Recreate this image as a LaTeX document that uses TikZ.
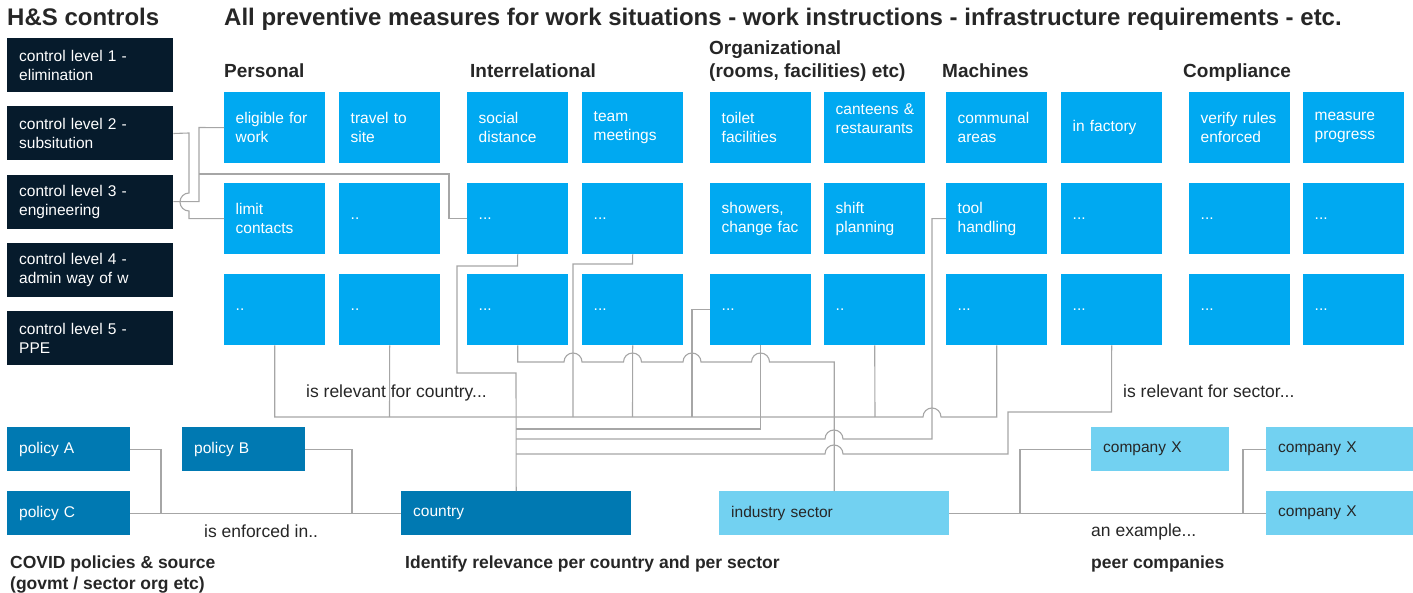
\documentclass[tikz,border=0pt]{standalone}
\usepackage{fontspec}
\setmainfont{Liberation Sans}

\definecolor{navy}{HTML}{061B2C}
\definecolor{skyblue}{HTML}{00A9F1}
\definecolor{polblue}{HTML}{0079B2}
\definecolor{lightsky}{HTML}{72D1F1}
\definecolor{linkgray}{HTML}{A6A6A6}
\definecolor{ink}{HTML}{262626}

\tikzset{
    box/.style={anchor=north west, inner xsep=12pt, inner ysep=0pt, align=left,
                font=\fontsize{15.5}{19}\selectfont},
    ctrl/.style={box, fill=navy, text=white, minimum height=54pt, text width=142pt},
    meas/.style={box, fill=skyblue, text=white, minimum height=71pt, text width=78pt,
                inner xsep=11.5pt},
    pol/.style={box, fill=polblue, text=white, minimum height=44pt},
    peer/.style={box, fill=lightsky, text=ink, minimum height=44pt},
    head/.style={anchor=base west, inner sep=0pt, text=ink, align=left,
                font=\bfseries\fontsize{19}{23}\selectfont},
    lbl/.style={anchor=base west, inner sep=0pt, text=ink,
                font=\fontsize{17.5}{21}\selectfont},
    link/.style={draw=linkgray, line width=1.1pt}
}

\begin{document}
\begin{tikzpicture}[x=1pt,y=-1pt]
    \useasboundingbox (0,0) rectangle (1413,593);

    %%titles
    \node[head, font=\bfseries\fontsize{24}{28}\selectfont] (hs) at (7,26) {H\&S controls};
    \node[head, font=\bfseries\fontsize{24}{28}\selectfont] (all) at (224,26)
        {All preventive measures for work situations - work instructions - infrastructure requirements - etc.};
    \node[head] (hpe) at (224,78) {Personal};
    \node[head] (hin) at (470,78) {Interrelational};
    \node[head] (hor) at (709,78) {Organizational\\(rooms, facilities) etc)};
    \node[head] (hma) at (942,78) {Machines};
    \node[head] (hco) at (1183,78) {Compliance};

    %%controls
    \node[ctrl] (l1) at (7,38) {control level 1 -\\elimination};
    \node[ctrl] (l2) at (7,106.3) {control level 2 -\\subsitution};
    \node[ctrl] (l3) at (7,174.5) {control level 3 -\\engineering};
    \node[ctrl] (l4) at (7,242.8) {control level 4 -\\admin way of w};
    \node[ctrl] (l5) at (7,311) {control level 5 -\\PPE};

    %%measures, row one
    \node[meas] (a1) at (224,92) {eligible for\\work};
    \node[meas] (b1) at (339,92) {travel to\\site};
    \node[meas] (c1) at (467,92) {social\\distance};
    \node[meas] (d1) at (582,92) {team\\meetings};
    \node[meas] (e1) at (710,92) {toilet\\facilities};
    \node[meas] (f1) at (824,92) {\mbox{canteens \&}\\\mbox{restaurants}\\\mbox{}};
    \node[meas] (g1) at (946,92) {communal\\areas};
    \node[meas] (h1) at (1061,92) {in factory};
    \node[meas] (i1) at (1189,92) {verify rules\\enforced};
    \node[meas] (j1) at (1303,92) {measure\\progress};

    %%row two
    \node[meas] (a2) at (224,183) {limit\\contacts};
    \node[meas] (b2) at (339,183) {..};
    \node[meas] (c2) at (467,183) {...};
    \node[meas] (d2) at (582,183) {...};
    \node[meas] (e2) at (710,183) {showers,\\change fac};
    \node[meas] (f2) at (824,183) {shift\\planning};
    \node[meas] (g2) at (946,183) {tool\\handling};
    \node[meas] (h2) at (1061,183) {...};
    \node[meas] (i2) at (1189,183) {...};
    \node[meas] (j2) at (1303,183) {...};

    %%row three
    \node[meas] (a3) at (224,274) {..};
    \node[meas] (b3) at (339,274) {..};
    \node[meas] (c3) at (467,274) {...};
    \node[meas] (d3) at (582,274) {...};
    \node[meas] (e3) at (710,274) {...};
    \node[meas] (f3) at (824,274) {..};
    \node[meas] (g3) at (946,274) {...};
    \node[meas] (h3) at (1061,274) {...};
    \node[meas] (i3) at (1189,274) {...};
    \node[meas] (j3) at (1303,274) {...};

    %%policies, country and sector
    \node[pol, text width=99pt] (pa) at (7,427) {policy A};
    \node[pol, text width=99pt] (pb) at (182,427) {policy B};
    \node[pol, text width=99pt] (pc) at (7,491) {policy C};
    \node[pol, text width=206pt] (cty) at (401,491) {country};
    \node[peer, text width=206pt] (sec) at (719,491) {industry sector};
    \node[peer, text width=114pt] (x1) at (1091,427) {company X};
    \node[peer, text width=123pt] (x2) at (1266,427) {company X};
    \node[peer, text width=123pt] (x3) at (1266,491) {company X};

    %%labels
    \node[lbl] (rc) at (306,397) {is relevant for country...};
    \node[lbl] (rs) at (1123,397) {is relevant for sector...};
    \node[lbl] (enf) at (204,537) {is enforced in..};
    \node[lbl] (ex) at (1091,536) {an example...};
    \node[head, font=\bfseries\fontsize{17.5}{21}\selectfont] (cov) at (10,589)
        {COVID policies \& source\\(govmt / sector org etc)};
    \node[head, font=\bfseries\fontsize{17.5}{21}\selectfont] (idr) at (405,568)
        {Identify relevance per country and per sector};
    \node[head, font=\bfseries\fontsize{17.5}{21}\selectfont] (pco) at (1091,568) {peer companies};

    %%controls to measures
    \draw[link] (l2.east) -- (189,133) -- (189,193)
        arc[start angle=90, end angle=270, radius=9pt] |- (a2.west);
    \draw[link] (l3.east) -| (199,127.5) -- (a1.west);
    \draw[link] (199,174) -- (449,174) |- (c2.west);

    %%measures to country
    \draw[link] (c2.south) -- (517.5,266) -- (457,266) -- (457,373) -- (516,373) -- (cty.north);
    \draw[link] (d2.south) -- (632.5,264) -- (573,264) -- (573,417);
    \draw[link] (a3.south) |- (923,417)
        arc[start angle=180, end angle=0, radius=9pt] -| (g3.south);
    \draw[link] (b3.south) -- (389.5,417);
    \draw[link] (d3.south) -- (632.5,417);
    \draw[link] (e3.west) -| (692,417);
    \draw[link] (f3.south) -- (875,417);
    \draw[link] (e3.south) |- (516,429);
    \draw[link] (g2.west) -| (932,439) -- (843,439)
        arc[start angle=0, end angle=180, radius=9pt] -- (516,439);
    \draw[link] (h3.south) -- (1111.5,412) -| (1008,454) -- (843,454)
        arc[start angle=0, end angle=180, radius=9pt] -- (516,454);

    %%measures to sector
    \draw[link] (c3.south) |- (564,362)
        arc[start angle=180, end angle=0, radius=9pt] -- (623.5,362)
        arc[start angle=180, end angle=0, radius=9pt] -- (683,362)
        arc[start angle=180, end angle=0, radius=9pt] -- (751.5,362)
        arc[start angle=180, end angle=0, radius=9pt] -| (sec.north);

    %%policies to country
    \draw[link] (pa.east) -| (161,513);
    \draw[link] (pc.east) -- (cty.west);
    \draw[link] (pb.east) -| (352,513);

    %%sector to peers
    \draw[link] (sec.east) -- (x3.west);
    \draw[link] (x1.west) -| (1020,513);
    \draw[link] (x2.west) -| (1243,513);
\end{tikzpicture}
\end{document}
